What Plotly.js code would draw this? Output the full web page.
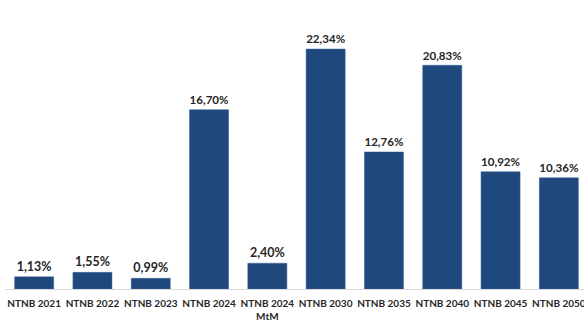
<!DOCTYPE html>
<html><head><meta charset="utf-8">
<script src="https://cdn.plot.ly/plotly-3.0.1.min.js"></script>
<style>html,body{margin:0;padding:0;overflow:hidden;background:#fff;}</style>
</head><body>
<div id="chart" style="width:600px;height:324px;"></div>
<script>
const categories = ["NTNB 2021","NTNB 2022","NTNB 2023","NTNB 2024","NTNB 2024<br>MtM","NTNB 2030","NTNB 2035","NTNB 2040","NTNB 2045","NTNB 2050"];
const values = [1.13, 1.55, 0.99, 16.70, 2.40, 22.34, 12.76, 20.83, 10.92, 10.36];

const trace = {
  type: 'bar',
  x: categories,
  y: values,
  marker: {color: '#1f497d', line: {color: '#3a6399', width: 0.5}},
  texttemplate: '%{y:.2f}%',
  textposition: 'outside',
  cliponaxis: false,
  textfont: {family: 'Lato, "Open Sans", sans-serif', size: 12.5, color: '#262626', weight: 'bold'},
  hoverinfo: 'none'
};

const layout = {
  width: 600, height: 324,
  margin: {l: 5, r: 12, t: 20, b: 35},
  separators: ',.',
  paper_bgcolor: '#fff', plot_bgcolor: '#fff',
  showlegend: false,
  bargap: 0.33,
  xaxis: {
    showline: true, linecolor: '#d9d9d9', linewidth: 1,
    ticks: '', tickangle: 0, ticklabelstandoff: 5,
    tickfont: {family: 'Lato, "Open Sans", sans-serif', size: 10, color: '#262626', weight: 'bold'},
    showgrid: false, zeroline: false, automargin: false
  },
  yaxis: {
    range: [0, 25.05], visible: false, showgrid: false, zeroline: false
  }
};

Plotly.newPlot('chart', [trace], layout, {staticPlot: true, displayModeBar: false});
</script>
</body></html>
